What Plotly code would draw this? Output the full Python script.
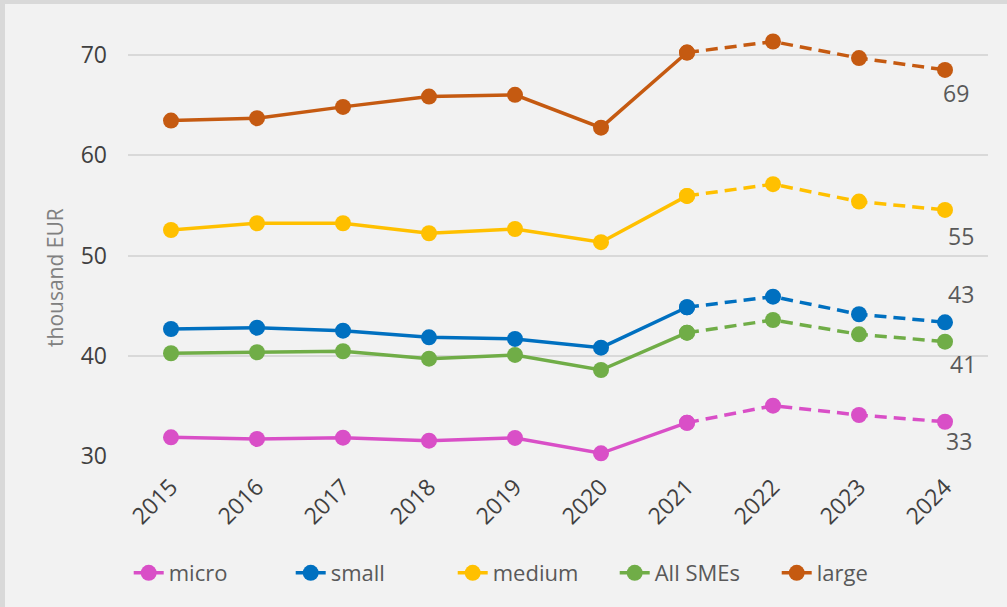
import plotly.graph_objects as go

years = ["2015", "2016", "2017", "2018", "2019", "2020", "2021", "2022", "2023", "2024"]
series_names = ["micro", "small", "medium", "All SMEs", "large"]
micro = [31.86, 31.7, 31.83, 31.53, 31.8, 30.27, 33.32, 35.02, 34.09, 33.42]
small = [42.67, 42.8, 42.5, 41.84, 41.68, 40.81, 44.84, 45.9, 44.14, 43.34]
medium = [52.55, 53.22, 53.22, 52.22, 52.65, 51.33, 55.95, 57.12, 55.38, 54.55]
all_smes = [40.25, 40.35, 40.45, 39.71, 40.08, 38.58, 42.3, 43.57, 42.14, 41.41]
large = [63.46, 63.7, 64.83, 65.86, 66.03, 62.76, 70.25, 71.35, 69.7, 68.52]
y_ticks = [30, 40, 50, 60, 70]
forecast_start = "2021"

colors = ["#D94FC7", "#0070C0", "#FFC000", "#70AD47", "#C55A11"]
label_shift = [(14, -19), (16, 28), (16, -26), (18, -22), (11, -23)]

FONT = "Open Sans"
fig = go.Figure()
split = years.index(forecast_start)
all_series = [micro, small, medium, all_smes, large]
for name, vals, col in zip(series_names, all_series, colors):
    fig.add_trace(go.Scatter(
        x=years[:split + 1], y=vals[:split + 1], name=name, legendgroup=name,
        mode="lines+markers", line=dict(color=col, width=3.5),
        marker=dict(size=16, color=col), showlegend=True, cliponaxis=False))
    fig.add_trace(go.Scatter(
        x=years[split:], y=vals[split:], name=name, legendgroup=name,
        mode="lines+markers", line=dict(color=col, width=3.5, dash="12px,7px"),
        marker=dict(size=16, color=col), showlegend=False, cliponaxis=False))

last_idx = len(years) - 1
for vals, (dx, dy) in zip(all_series, label_shift):
    fig.add_annotation(x=last_idx, y=vals[-1], xref="x", yref="y",
                       text=f"{round(vals[-1])}", showarrow=False,
                       xshift=dx, yshift=dy,
                       font=dict(family=FONT, size=23, color="#595959"))

fig.add_annotation(text="thousand EUR", xref="paper", yref="paper",
                   x=0, y=0.418, xshift=-73, xanchor="center", yanchor="middle",
                   textangle=-90, showarrow=False,
                   font=dict(family=FONT, size=21, color="#808080"))

# frame bands (top and left)
fig.add_shape(type="rect", xref="paper", yref="paper", ysizemode="pixel",
              yanchor=1, x0=-0.2, x1=1.2, y0=26, y1=32,
              fillcolor="#D9D9D9", line_width=0, layer="below")
fig.add_shape(type="rect", xref="paper", yref="paper", xsizemode="pixel",
              xanchor=0, x0=-130, x1=-123, y0=-0.5, y1=1.2,
              fillcolor="#D9D9D9", line_width=0, layer="below")

fig.update_layout(
    width=1007, height=607,
    margin=dict(l=128, r=19, t=30, b=151),
    paper_bgcolor="#F2F2F2", plot_bgcolor="#F2F2F2",
    font=dict(family=FONT, color="#404040"),
    showlegend=True,
    legend=dict(orientation="h", xref="container", yref="container",
                x=0.53, xanchor="center", y=0.056, yanchor="middle",
                font=dict(family=FONT, size=22, color="#595959"),
                bgcolor="rgba(0,0,0,0)", entrywidth=117, entrywidthmode="pixels",
                traceorder="normal"),
    xaxis=dict(type="category", categoryorder="array", categoryarray=years,
               range=[-0.5, len(years) - 0.5], tickangle=-45,
               tickfont=dict(family=FONT, size=23, color="#404040"),
               showgrid=False, showline=False, zeroline=False,
               ticklabelstandoff=12),
    yaxis=dict(range=[30, 72.5], tickvals=y_ticks,
               tickfont=dict(family=FONT, size=23, color="#404040"),
               gridcolor="#D9D9D9", gridwidth=2, zeroline=False,
               showline=False, ticklabelstandoff=20),
)

fig.write_html("out.html", config={"displayModeBar": False},
               post_script="document.body.style.margin='0';document.body.style.background='#F2F2F2';")
